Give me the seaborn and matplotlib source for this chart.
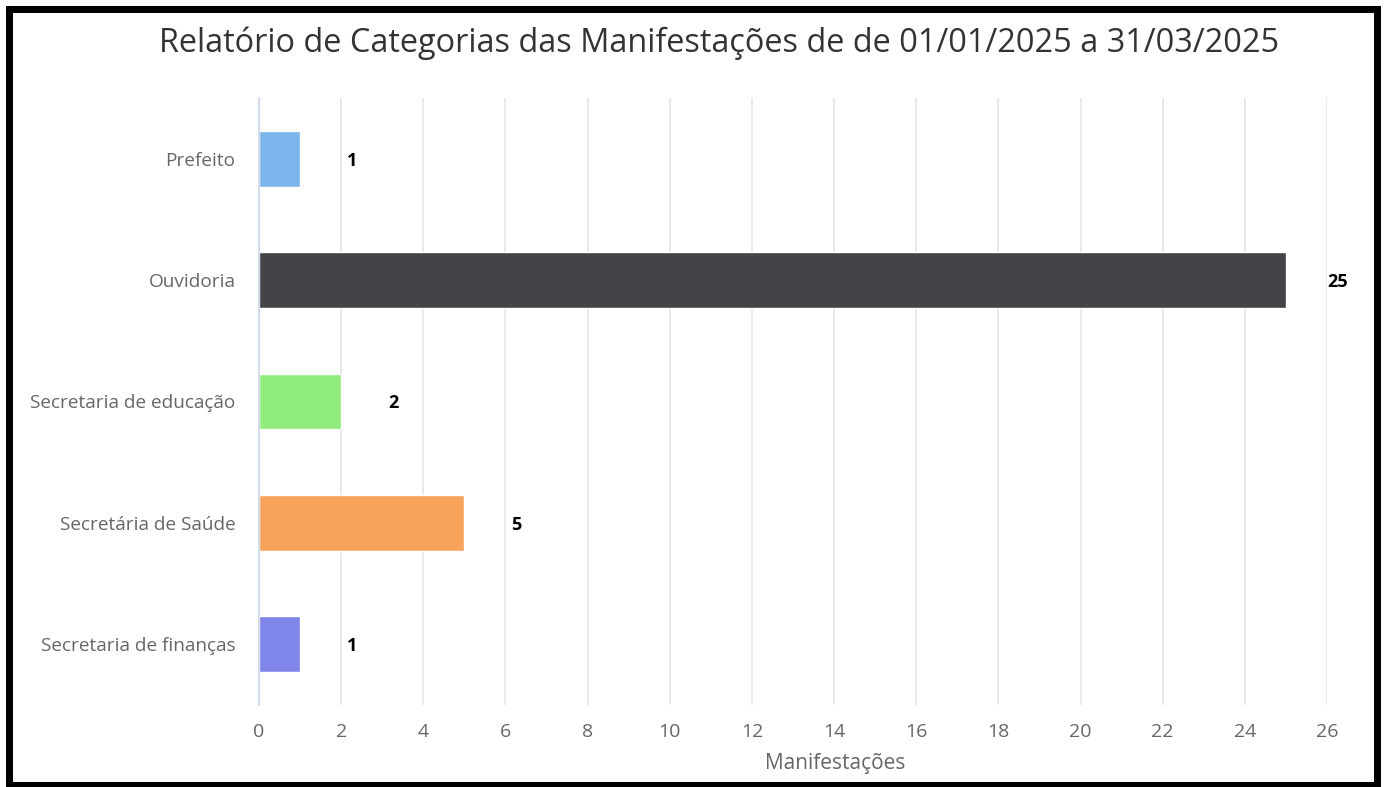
import matplotlib
matplotlib.use("Agg")
import matplotlib.pyplot as plt
import seaborn as sns
import pandas as pd
from matplotlib.patches import Rectangle

categories = ["Prefeito", "Ouvidoria", "Secretaria de educação", "Secretária de Saúde", "Secretaria de finanças"]
values = [1, 25, 2, 5, 1]
colors = ["#7cb5ec", "#434348", "#90ed7d", "#f7a35c", "#8085e9"]
xticks = list(range(0, 27, 2))
title = "Relatório de Categorias das Manifestações de de 01/01/2025 a 31/03/2025"
xlabel = "Manifestações"

sns.set_theme(style="white")
plt.rcParams["font.family"] = ["Open Sans", "DejaVu Sans"]

df = pd.DataFrame({"cat": categories, "val": values})

W, H = 1384, 787
fig = plt.figure(figsize=(W / 100, H / 100), dpi=100)
ax = fig.add_axes([259 / W, 1 - 705 / H, (1327 - 259) / W, (705 - 98) / H])

sns.barplot(data=df, y="cat", x="val", hue="cat", palette=colors, legend=False,
            orient="h", width=0.46, ax=ax, edgecolor="white", linewidth=1,
            saturation=1)

ax.set_xlim(0, 26)
ax.set_ylim(4.5, -0.5)
ax.set_xticks(xticks)
ax.set_xticklabels([str(t) for t in xticks])
ax.grid(axis="x", color="#e6e6e6", linewidth=1.2)
ax.grid(axis="y", visible=False)
ax.set_axisbelow(True)
for s in ["top", "right", "bottom"]:
    ax.spines[s].set_visible(False)
ax.spines["left"].set_color("#ccd6eb")
ax.spines["left"].set_linewidth(1.2)
ax.tick_params(axis="both", length=0, colors="#666666")
ax.tick_params(axis="y", labelsize=13.7, pad=17)
ax.tick_params(axis="x", labelsize=14, pad=13)
ax.set_ylabel("")
ax.set_xlabel(xlabel, fontsize=15, color="#666666")
ax.xaxis.set_label_coords((835 - 259) / (1327 - 259), -(764 - 705) / (705 - 98), transform=ax.transAxes)
ax.xaxis.label.set_verticalalignment("center")

for i, v in enumerate(values):
    ax.annotate(str(v), xy=(v, i), xytext=(52, -2), textcoords="offset pixels",
                ha="center", va="center", fontsize=13, fontweight="bold", color="#000000")

fig.text(719 / W, 1 - 43 / H, title, ha="center", va="center", fontsize=23.4, color="#333333")

border = Rectangle((8.5, 2), 1377 - 8.5, 778.5 - 2, transform=None, fill=False,
                   edgecolor="black", linewidth=7 * 72 / 100)
fig.patches.append(border)

fig.savefig("out.png", dpi=100, facecolor="white")
